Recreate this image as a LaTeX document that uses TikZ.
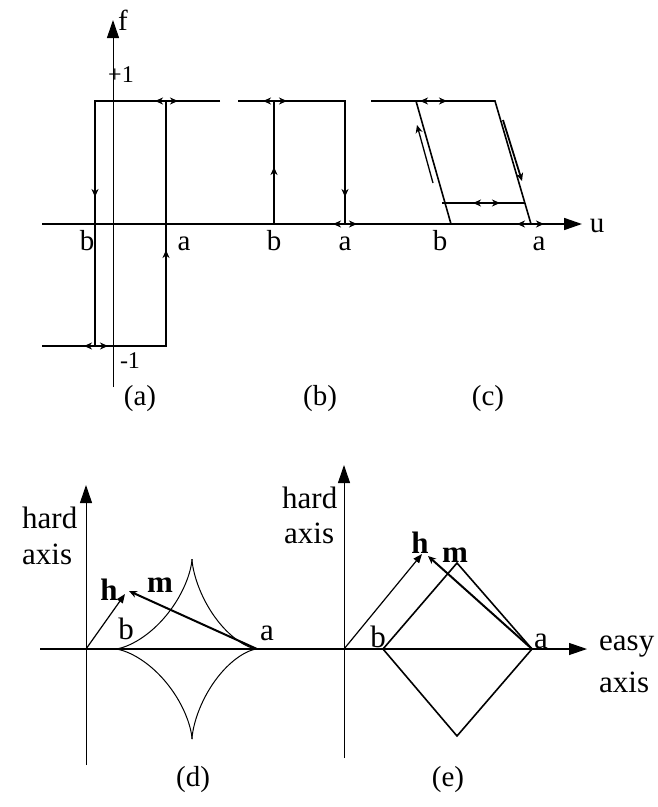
\documentclass[tikz,border=0pt]{standalone}
\usepackage{fontspec}
\setmainfont{Liberation Serif}
\usetikzlibrary{arrows.meta}
\begin{document}
\begin{tikzpicture}[x=1pt,y=-1pt,
  loopline/.style={line width=1.6pt},
  thinax/.style={line width=1pt},
  bigtip/.style={-{Triangle[length=18pt,width=12pt]}},
  smalltip/.style={-{Stealth[length=8pt,width=7pt,inset=2.5pt]}},
  solidtip/.style={-{Triangle[length=9pt,width=7pt]}},
  lbl/.style={font=\fontsize{29}{34}\selectfont, anchor=base, inner sep=0pt},
  lblsm/.style={font=\fontsize{24}{28}\selectfont, anchor=base, inner sep=0pt},
  lblb/.style={font=\fontsize{31}{36}\selectfont, anchor=base, inner sep=0pt},
  boldlbl/.style={lblb, font=\fontsize{31}{36}\selectfont\bfseries},
]
\useasboundingbox (0,0) rectangle (657,807);

% ---------- top: axes ----------
\coordinate (fbot) at (113,387);
\coordinate (ftop) at (113,20);
\coordinate (uL) at (42,224);
\coordinate (uR) at (582,224);
\draw[thinax,bigtip] (fbot) -- (ftop);
\draw[loopline,bigtip] (uL) -- (uR);

% ---------- (a) ----------
\coordinate (a1) at (42,346);
\coordinate (a2) at (166,346);
\coordinate (a3) at (166,101);
\coordinate (a4) at (220,101);
\coordinate (a5) at (95,101);
\coordinate (a6) at (95,346);
\draw[loopline] (a1) -- (a2) -- (a3);
\draw[loopline] (a4) -- (a5) -- (a6);
\draw[loopline,smalltip] (95,184) -- (95,197);
\draw[line width=2.6pt] (166,306) -- (166,256);
\draw[loopline,smalltip] (166,262) -- (166,250);
\draw[loopline,smalltip] (a3) -- (155,101);
\draw[loopline,smalltip] (a3) -- (178,101);
\draw[loopline,smalltip] (a6) -- (84,346);
\draw[loopline,smalltip] (a6) -- (108,346);

% ---------- (b) ----------
\coordinate (b1) at (238,101);
\coordinate (b2) at (345,101);
\coordinate (b3) at (345,224);
\coordinate (b4) at (274,224);
\coordinate (b5) at (274,101);
\draw[loopline] (b1) -- (b2) -- (b3);
\draw[loopline] (b4) -- (b5);
\draw[loopline,smalltip] (274,180) -- (274,167);
\draw[loopline,smalltip] (345,185) -- (345,197);
\draw[loopline,smalltip] (b5) -- (263,101);
\draw[loopline,smalltip] (b5) -- (287,101);
\draw[loopline,smalltip] (b3) -- (333,224);
\draw[loopline,smalltip] (b3) -- (357,224);

% ---------- (c) ----------
\coordinate (c1) at (371,101);
\coordinate (c2) at (495,101);
\coordinate (c3) at (531,224);
\coordinate (c4) at (416,101);
\coordinate (c5) at (451,224);
\coordinate (c6) at (442,203);
\coordinate (c7) at (525,203);
\draw[loopline] (c1) -- (c2) -- (c3);
\draw[loopline] (c4) -- (c5);
\draw[loopline] (c6) -- (c7);
\draw[loopline,smalltip] (433,101) -- (420,101);
\draw[loopline,smalltip] (433,101) -- (447,101);
\draw[loopline,smalltip] (486,203) -- (473,203);
\draw[loopline,smalltip] (486,203) -- (500,203);
\draw[loopline,smalltip] (530,224) -- (517,224);
\draw[loopline,smalltip] (530,224) -- (544,224);
\coordinate (cl1) at (433,183);
\coordinate (cl2) at (417,125);
\coordinate (cr1) at (503,120);
\coordinate (cr2) at (522,181);
\draw[line width=1.3pt,smalltip] (cl1) -- (cl2);
\draw[line width=1.8pt,smalltip] (cr1) -- (cr2);

% ---------- top labels ----------
\node[lbl] (lf) at (123,30) {f};
\node[lblsm] (lp1) at (121,82) {+1};
\node[lblsm] (lm1) at (130,368) {-1};
\node[lbl] (lab) at (87,250) {b};
\node[lbl] (laa) at (184,250) {a};
\node[lbl] (lbb) at (274,250) {b};
\node[lbl] (lba) at (345,250) {a};
\node[lbl] (lcb) at (440,250) {b};
\node[lbl] (lca) at (539,250) {a};
\node[lbl] (lu) at (597,232) {u};
\node[lbl] (capa) at (140,405) {(a)};
\node[lbl] (capb) at (320,405) {(b)};
\node[lbl] (capc) at (488,405) {(c)};

% ---------- bottom: axes ----------
\coordinate (dhb) at (86,765);
\coordinate (dht) at (86,485);
\coordinate (ehb) at (344,758);
\coordinate (eht) at (344,465);
\coordinate (exL) at (40,649);
\coordinate (exR) at (587,649);
\draw[thinax,bigtip] (dhb) -- (dht);
\draw[thinax,bigtip] (ehb) -- (eht);
\draw[line width=1.2pt,bigtip] (exL) -- (exR);

% ---------- (d) astroid ----------
\draw[line width=1pt] plot[domain=0:90,samples=80,variable=\t]
  ({192+65*cos(\t)*cos(\t)*cos(\t)},{649-90*sin(\t)*sin(\t)*sin(\t)});
\draw[line width=1pt] plot[domain=90:180,samples=80,variable=\t]
  ({192+77*cos(\t)*cos(\t)*cos(\t)},{649-90*sin(\t)*sin(\t)*sin(\t)});
\draw[line width=1pt] plot[domain=180:270,samples=80,variable=\t]
  ({192+77*cos(\t)*cos(\t)*cos(\t)},{649-90*sin(\t)*sin(\t)*sin(\t)});
\draw[line width=1pt] plot[domain=270:360,samples=80,variable=\t]
  ({192+65*cos(\t)*cos(\t)*cos(\t)},{649-90*sin(\t)*sin(\t)*sin(\t)});
\coordinate (dO) at (86,649);
\coordinate (dh) at (125,594);
\coordinate (da) at (257,649);
\coordinate (dm) at (129,591);
\draw[line width=1.2pt,solidtip] (dO) -- (dh);
\draw[line width=2pt,smalltip] (da) -- (dm);

% ---------- (e) diamond ----------
\coordinate (eb) at (383,649);
\coordinate (et) at (457,563);
\coordinate (ea) at (532,649);
\coordinate (ed) at (457,736);
\draw[loopline] (eb) -- (et) -- (ea) -- (ed) -- cycle;
\coordinate (eO) at (344,649);
\coordinate (eh) at (422,554);
\coordinate (em) at (428,556);
\draw[line width=1.2pt,solidtip] (eO) -- (eh);
\draw[line width=2pt,smalltip] (ea) -- (em);

% ---------- bottom labels ----------
\node[lblb,anchor=base west] (dhard) at (22,528) {hard};
\node[lblb,anchor=base west] (daxis) at (22,564) {axis};
\node[lblb,anchor=base west] (ehard) at (282,508) {hard};
\node[lblb,anchor=base west] (eaxis) at (284,543) {axis};
\node[lblb,anchor=base west] (easy) at (599,650) {easy};
\node[lblb,anchor=base west] (easyax) at (599,692) {axis};
\node[boldlbl] (dhl) at (109,600) {h};
\node[boldlbl] (dml) at (160,592) {m};
\node[lblb] (dbl) at (126,639) {b};
\node[lblb] (dal) at (267,640) {a};
\node[boldlbl] (ehl) at (420,553) {h};
\node[boldlbl] (eml) at (455,562) {m};
\node[lblb] (ebl) at (378,647) {b};
\node[lblb] (eal) at (541,648) {a};
\node[lbl] (capd) at (193,786) {(d)};
\node[lbl] (cape) at (448,786) {(e)};
\end{tikzpicture}
\end{document}
